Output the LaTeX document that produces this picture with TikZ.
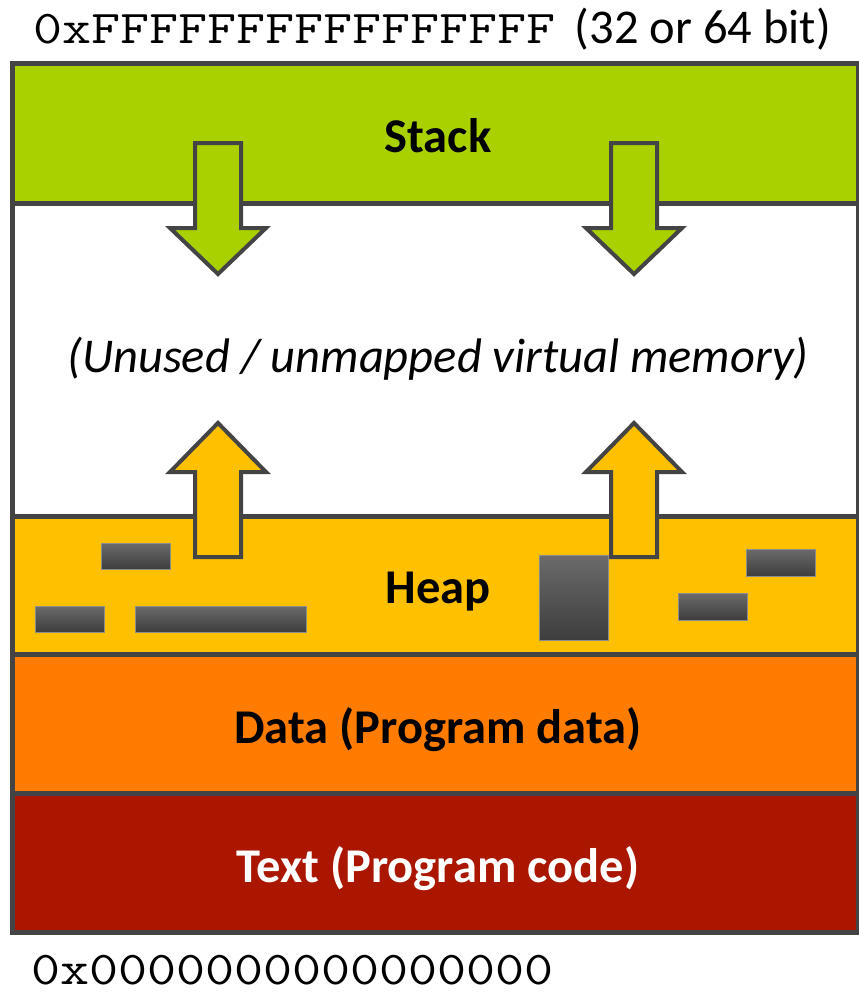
\documentclass[tikz,border=0pt]{standalone}
\usepackage{fontspec}
\setmainfont{Carlito}
\newfontfamily\hexfont[FakeStretch=1.2]{Latin Modern Mono}
\definecolor{stackgreen}{RGB}{169,209,0}
\definecolor{heapyellow}{RGB}{255,192,0}
\definecolor{dataorange}{RGB}{255,124,0}
\definecolor{textred}{RGB}{170,22,0}
\definecolor{edge}{RGB}{68,68,68}
\newcommand{\lbl}       {\fontsize{48.5}{52}\selectfont}
\newcommand{\hexsz}     {\fontsize{47}{50}\selectfont}
\newcommand{\blkarrow}[5]{% center x, shaft end, head base, tip, fill
  \filldraw[fill=#5,draw=edge,line width=4pt]
    (#1-23,#2) -- (#1+23,#2) -- (#1+23,#3) -- (#1+48,#3) -- (#1,#4)
    -- (#1-48,#3) -- (#1-23,#3) -- cycle;}
\newcommand{\blk}[4]{%
  \shade[top color=black!58,bottom color=black!76,draw=black!45,line width=0.8pt]
    (#1,#2) rectangle (#3,#4);}

\begin{document}
\begin{tikzpicture}[x=1pt,y=-1pt]
  \useasboundingbox (0,0) rectangle (859,994);
  \fill[stackgreen] (12,63) rectangle (858,203);
  \fill[white] (12,203) rectangle (858,516);
  \fill[heapyellow] (12,516) rectangle (858,654);
  \fill[dataorange] (12,654) rectangle (858,793);
  \fill[textred] (12,793) rectangle (858,932);
  \draw[edge,line width=5pt] (12,203) -- (858,203);
  \draw[edge,line width=5pt] (12,516) -- (858,516);
  \draw[edge,line width=5pt] (12,654) -- (858,654);
  \draw[edge,line width=5pt] (12,793) -- (858,793);
  \draw[edge,line width=5pt] (12,63) rectangle (858,932);
  % heap blocks
  \blk{101}{543}{170}{569}
  \blk{35}{606}{104}{632}
  \blk{135}{606}{306}{632}
  \blk{539}{555}{608}{640}
  \blk{678}{593}{747}{620}
  \blk{746}{549}{815}{576}
  % growth arrows
  \blkarrow{218}{143}{228}{274}{stackgreen}
  \blkarrow{634}{143}{228}{274}{stackgreen}
  \blkarrow{218}{557}{472}{423}{heapyellow}
  \blkarrow{634}{557}{472}{423}{heapyellow}
  \node[anchor=base,inner sep=0] (stack) at (438,152) {\lbl\bfseries Stack};
  \node[anchor=base,inner sep=0] (unused) at (438,372) {\lbl\itshape (Unused / unmapped virtual memory)};
  \node[anchor=base,inner sep=0] (heap) at (438,603) {\lbl\bfseries Heap};
  \node[anchor=base,inner sep=0] (data) at (438,743) {\lbl\bfseries Data (Program data)};
  \node[anchor=base,inner sep=0,white] (text) at (438,882) {\lbl\bfseries Text (Program code)};
  \node[anchor=base west,inner sep=0] (top) at (33,43) {\hexsz\hexfont 0xFFFFFFFFFFFFFFFF};
  \node[anchor=base east,inner sep=0] (bits) at (831,43) {\lbl (32 or 64 bit)};
  \node[anchor=base west,inner sep=0] (bottom) at (31,984) {\hexsz\hexfont 0x0000000000000000};
\end{tikzpicture}
\end{document}
